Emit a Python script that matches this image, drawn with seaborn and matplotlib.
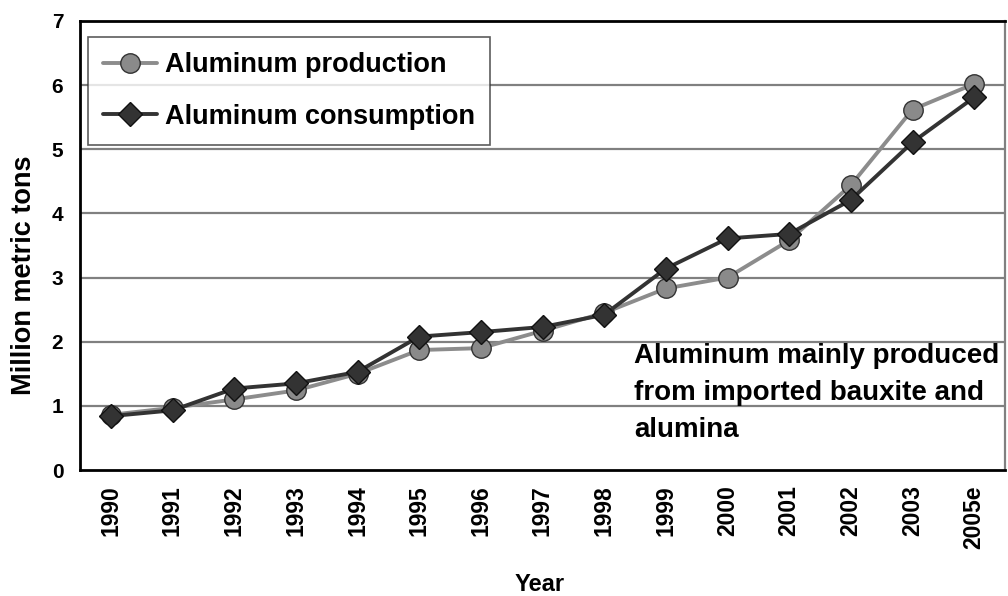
import matplotlib
matplotlib.use("Agg")
import matplotlib.pyplot as plt
import seaborn as sns
import pandas as pd
import numpy as np
from matplotlib.ticker import FixedLocator

years = ["1990", "1991", "1992", "1993", "1994", "1995", "1996", "1997",
         "1998", "1999", "2000", "2001", "2002", "2003", "2005e"]
production = [0.86, 0.97, 1.10, 1.24, 1.50, 1.87, 1.90, 2.17,
              2.45, 2.83, 3.00, 3.58, 4.44, 5.62, 6.02]
consumption = [0.84, 0.93, 1.27, 1.35, 1.53, 2.08, 2.15, 2.23,
               2.42, 3.14, 3.61, 3.68, 4.21, 5.11, 5.81]

sns.set_theme(style="white")
plt.rcParams['font.family'] = ['Liberation Sans', 'DejaVu Sans']
plt.rcParams['font.weight'] = 'bold'
plt.rcParams['text.color'] = 'black'
plt.rcParams['axes.labelcolor'] = 'black'
plt.rcParams['xtick.color'] = 'black'
plt.rcParams['ytick.color'] = 'black'

df = pd.DataFrame({"Year": years, "prod": production, "cons": consumption})

fig = plt.figure(figsize=(10.08, 5.96), dpi=100)
ax = fig.add_axes([80/1008, 126/596, 925/1008, 449/596])

for y in range(1, 7):
    ax.axhline(y, color="#808080", lw=1.6, zorder=0)

sns.lineplot(data=df, x="Year", y="prod", ax=ax, color="#8c8c8c", lw=2.8,
             marker="o", markersize=14, markerfacecolor="#8a8a8a",
             markeredgecolor="#333333", markeredgewidth=1.0,
             label="Aluminum production", sort=False)
sns.lineplot(data=df, x="Year", y="cons", ax=ax, color="#333333", lw=2.8,
             marker="D", markersize=12, markerfacecolor="#333333",
             markeredgecolor="#111111", markeredgewidth=1.0,
             label="Aluminum consumption", sort=False)

ax.set_xlim(-0.5, len(years) - 0.5)
ax.set_ylim(0, 7)
ax.set_yticks(range(0, 8))
ax.set_yticklabels([str(v) for v in range(0, 8)], fontsize=15, fontweight="bold")
ax.set_xticks(range(len(years)))
ax.set_xticklabels(years, rotation=90, fontsize=16.5, fontweight="bold")
ax.xaxis.set_minor_locator(FixedLocator(np.arange(0.5, len(years) - 1, 1.0)))
ax.tick_params(axis="x", which="major", length=0, pad=11)
ax.tick_params(axis="x", which="minor", length=6, width=1.5, direction="in", color="#333333")
ax.tick_params(axis="y", length=0, pad=12)

for side in ["left", "bottom", "top"]:
    ax.spines[side].set_color("black")
    ax.spines[side].set_linewidth(2.0)
ax.spines["right"].set_color("#808080")
ax.spines["right"].set_linewidth(1.6)

ax.set_ylabel("Million metric tons", fontsize=19.5, fontweight="bold")
ax.yaxis.set_label_coords(-0.047, 0.434)
ax.set_xlabel("Year", fontsize=17, fontweight="bold")
ax.xaxis.set_label_coords(0.497, -0.229)

leg = ax.legend(loc="upper left", bbox_to_anchor=(0.0086, 0.964), borderaxespad=0,
                frameon=True, fancybox=False, edgecolor="#333333",
                handlelength=2.0, handletextpad=0.3, borderpad=0.55,
                labelspacing=0.95, prop={"weight": "bold", "size": 19.5})
leg.get_frame().set_linewidth(1.2)

ax.text(0.599, 0.283, "Aluminum mainly produced\nfrom imported bauxite and\nalumina",
        transform=ax.transAxes, ha="left", va="top", fontsize=20,
        fontweight="bold", linespacing=1.55)

fig.savefig("out.png", dpi=100)
